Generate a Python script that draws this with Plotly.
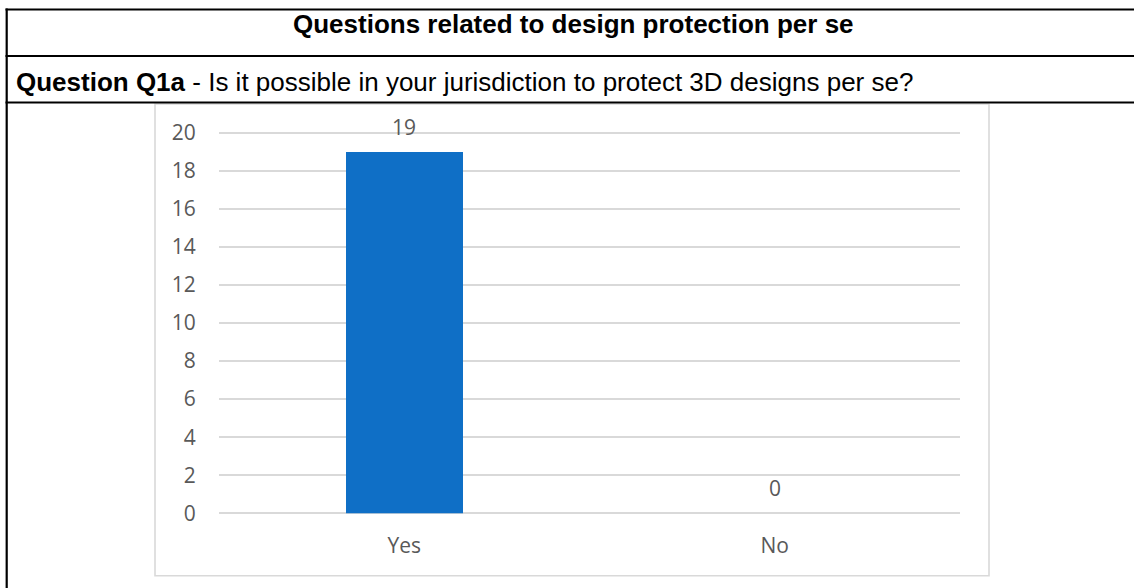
import plotly.graph_objects as go

# Survey answers for Q1a
categories = ["Yes", "No"]
counts = [19, 0]
y_ticks = [0, 2, 4, 6, 8, 10, 12, 14, 16, 18, 20]

header_title = "Questions related to design protection per se"
question_label = "Question Q1a"
question_text = " - Is it possible in your jurisdiction to protect 3D designs per se?"

W, H = 1134, 588
BAR_COLOR = "#0f6fc6"
TEXT_GRAY = "#595959"
GRID_GRAY = "#d9d9d9"

Y0_PX, Y20_PX = 513.3, 132.7
Y_TOP = 20.1  # a little headroom so the top gridline is drawn
y_top_px = Y0_PX - (Y0_PX - Y20_PX) * Y_TOP / 20


def px_x(x):
    return x / W


def px_y(y):
    return 1 - y / H


fig = go.Figure()

fig.add_trace(go.Bar(
    x=categories,
    y=counts,
    marker=dict(color=BAR_COLOR, line=dict(width=0)),
    width=0.316,
    hoverinfo="skip",
))

# Value labels above each bar
for cat, val in zip(categories, counts):
    fig.add_annotation(
        x=cat, y=val, xref="x", yref="y",
        text=str(val), showarrow=False,
        yshift=25, yanchor="middle",
        font=dict(family="Open Sans", size=21, color=TEXT_GRAY),
    )

fig.update_layout(
    width=W, height=H,
    margin=dict(l=0, r=0, t=0, b=0, autoexpand=False),
    paper_bgcolor="white",
    plot_bgcolor="white",
    showlegend=False,
    bargap=0,
    xaxis=dict(
        domain=[px_x(219), px_x(960)],
        automargin=False,
        showgrid=False, zeroline=False, showline=False,
        ticks="outside", ticklen=13, tickcolor="rgba(0,0,0,0)",
        tickfont=dict(family="Open Sans", size=21, color=TEXT_GRAY),
        fixedrange=True,
    ),
    yaxis=dict(
        domain=[1 - Y0_PX / H, 1 - y_top_px / H],
        range=[0, Y_TOP],
        automargin=False,
        tickvals=y_ticks,
        showgrid=True, gridcolor=GRID_GRAY, gridwidth=1.6,
        zeroline=True, zerolinecolor=GRID_GRAY, zerolinewidth=1.6,
        showline=False,
        ticks="outside", ticklen=18, tickcolor="rgba(0,0,0,0)",
        tickfont=dict(family="Open Sans", size=21, color=TEXT_GRAY),
        fixedrange=True,
    ),
)

shapes = []
# Table rules
for y in (9.5, 56, 102.5):
    shapes.append(dict(type="line", xref="paper", yref="paper",
                       x0=px_x(5.5), x1=1.01, y0=px_y(y), y1=px_y(y),
                       line=dict(color="black", width=2.2)))
shapes.append(dict(type="line", xref="paper", yref="paper",
                   x0=px_x(6.7), x1=px_x(6.7), y0=px_y(8.5), y1=-0.02,
                   line=dict(color="black", width=2.2)))
# Chart frame
shapes.append(dict(type="rect", xref="paper", yref="paper",
                   x0=px_x(155), x1=px_x(989), y0=px_y(575.7), y1=px_y(104),
                   line=dict(color=GRID_GRAY, width=1.6), layer="below"))
fig.update_layout(shapes=shapes)

fig.add_annotation(
    xref="paper", yref="paper", x=px_x(573), y=px_y(24.5),
    xanchor="center", yanchor="middle", showarrow=False,
    text=f"<b>{header_title}</b>",
    font=dict(family="Liberation Sans", size=26, color="black"),
)
fig.add_annotation(
    xref="paper", yref="paper", x=px_x(14), y=px_y(81.5),
    xanchor="left", yanchor="middle", showarrow=False,
    text=f"<b>{question_label}</b>{question_text}",
    font=dict(family="Liberation Sans", size=26, color="black"),
)

fig.write_html("out.html")
